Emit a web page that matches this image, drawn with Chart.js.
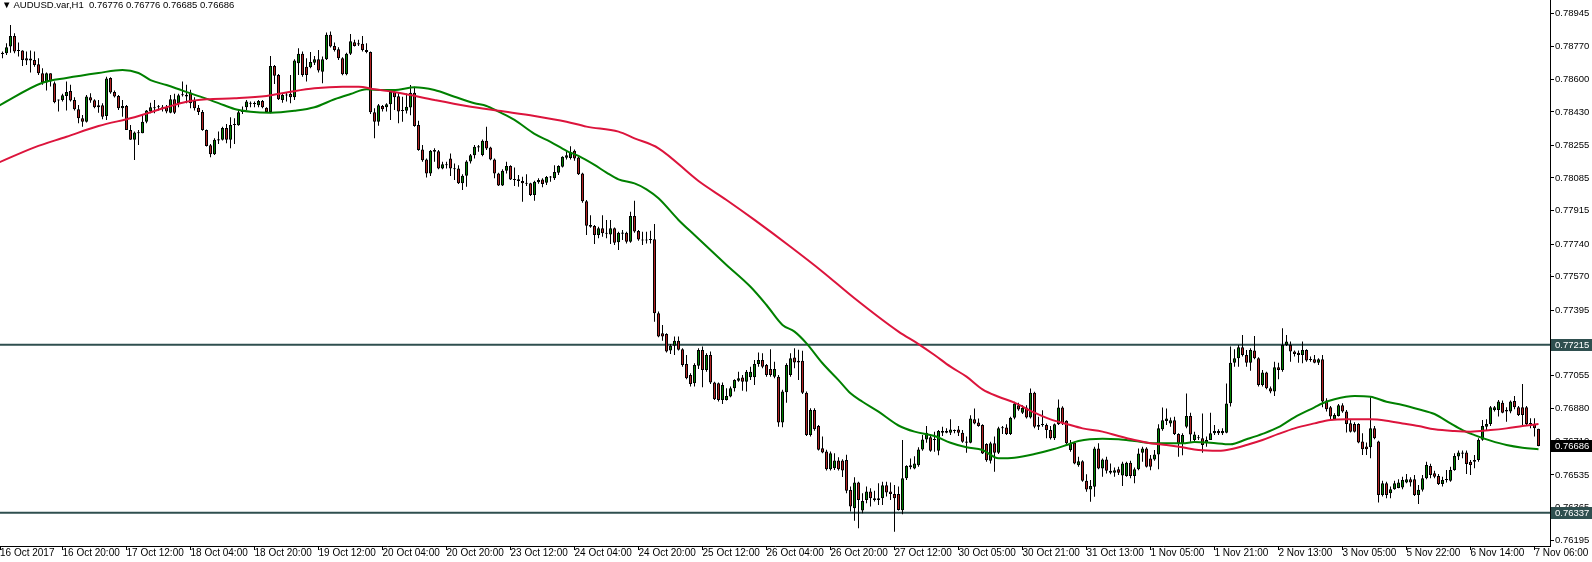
<!DOCTYPE html>
<html lang="en">
<head>
<meta charset="UTF-8">
<title>AUDUSD.var,H1</title>
<script src="https://cdn.jsdelivr.net/npm/chart.js@4.4.1/dist/chart.umd.min.js"></script>
<style>
    html, body { margin: 0; padding: 0; background: #fff; }
    .wrap { position: relative; width: 1592px; height: 562px; }
    .title {
        position: absolute; left: 2px; top: -1px;
        font: 9.5px "Liberation Sans", "DejaVu Sans", sans-serif;
        color: #000; white-space: pre;
    }
</style>
</head>
<body>
<div class="wrap">
    <canvas id="chart" width="1592" height="562"></canvas>
    <div class="title">▼ AUDUSD.var,H1  0.76776 0.76776 0.76685 0.76686</div>
</div>
<script>
// H1 candles, one entry per bar, oldest first (bar 0 = 16 Oct 04:00)
const opens = [
    0.78760, 0.78739, 0.78736, 0.78771, 0.78826, 0.78752, 0.78750, 0.78710, 0.78708, 0.78701,
    0.78679, 0.78632, 0.78583, 0.78632, 0.78579, 0.78494, 0.78492, 0.78513, 0.78539, 0.78492,
    0.78444, 0.78397, 0.78379, 0.78506, 0.78491, 0.78465, 0.78465, 0.78409, 0.78607, 0.78534,
    0.78513, 0.78449, 0.78461, 0.78336, 0.78284, 0.78320, 0.78318, 0.78378, 0.78432, 0.78449,
    0.78454, 0.78456, 0.78454, 0.78426, 0.78496, 0.78475, 0.78517, 0.78520, 0.78531, 0.78487,
    0.78451, 0.78430, 0.78336, 0.78256, 0.78209, 0.78280, 0.78284, 0.78346, 0.78284, 0.78362,
    0.78360, 0.78430, 0.78454, 0.78477, 0.78473, 0.78465, 0.78487, 0.78451, 0.78430, 0.78670,
    0.78623, 0.78492, 0.78518, 0.78524, 0.78506, 0.78684, 0.78733, 0.78666, 0.78663, 0.78687,
    0.78705, 0.78640, 0.78705, 0.78832, 0.78774, 0.78757, 0.78710, 0.78626, 0.78733, 0.78793,
    0.78782, 0.78785, 0.78753, 0.78743, 0.78428, 0.78379, 0.78461, 0.78454, 0.78470, 0.78534,
    0.78512, 0.78439, 0.78436, 0.78453, 0.78530, 0.78361, 0.78234, 0.78182, 0.78109, 0.78222,
    0.78225, 0.78135, 0.78156, 0.78187, 0.78135, 0.78135, 0.78057, 0.78097, 0.78171, 0.78203,
    0.78244, 0.78205, 0.78279, 0.78244, 0.78182, 0.78109, 0.78046, 0.78123, 0.78147, 0.78077,
    0.78079, 0.78069, 0.78057, 0.78057, 0.77996, 0.78063, 0.78077, 0.78060, 0.78088, 0.78083,
    0.78112, 0.78144, 0.78190, 0.78189, 0.78227, 0.78192, 0.78109, 0.77964, 0.77839, 0.77834,
    0.77787, 0.77823, 0.77798, 0.77790, 0.77823, 0.77750, 0.77801, 0.77799, 0.77752, 0.77886,
    0.77808, 0.77761, 0.77759, 0.77761, 0.77765, 0.77379, 0.77274, 0.77271, 0.77184, 0.77209,
    0.77236, 0.77191, 0.77114, 0.77057, 0.77013, 0.77105, 0.77187, 0.77083, 0.77161, 0.77017,
    0.77013, 0.76926, 0.76926, 0.76944, 0.76987, 0.77027, 0.77043, 0.77022, 0.77045, 0.77045,
    0.77114, 0.77135, 0.77109, 0.77088, 0.77048, 0.77048, 0.76808, 0.76966, 0.77057, 0.77148,
    0.77131, 0.77131, 0.76964, 0.76744, 0.76874, 0.76790, 0.76674, 0.76657, 0.76565, 0.76570,
    0.76610, 0.76610, 0.76613, 0.76456, 0.76361, 0.76495, 0.76349, 0.76404, 0.76448, 0.76413,
    0.76404, 0.76413, 0.76481, 0.76448, 0.76435, 0.76435, 0.76351, 0.76517, 0.76575, 0.76569,
    0.76586, 0.76668, 0.76720, 0.76731, 0.76717, 0.76661, 0.76764, 0.76755, 0.76755, 0.76768,
    0.76772, 0.76755, 0.76703, 0.76703, 0.76826, 0.76809, 0.76795, 0.76696, 0.76609, 0.76700,
    0.76651, 0.76778, 0.76782, 0.76748, 0.76833, 0.76899, 0.76860, 0.76887, 0.76835, 0.76964,
    0.76786, 0.76795, 0.76795, 0.76769, 0.76726, 0.76799, 0.76887, 0.76818, 0.76665, 0.76703,
    0.76586, 0.76607, 0.76505, 0.76459, 0.76473, 0.76673, 0.76569, 0.76616, 0.76557, 0.76546,
    0.76564, 0.76532, 0.76529, 0.76599, 0.76529, 0.76564, 0.76651, 0.76673, 0.76621, 0.76616,
    0.76642, 0.76773, 0.76817, 0.76804, 0.76821, 0.76748, 0.76700, 0.76786, 0.76842, 0.76717,
    0.76726, 0.76726, 0.76700, 0.76717, 0.76752, 0.76764, 0.76752, 0.76755, 0.76909, 0.77121,
    0.77144, 0.77201, 0.77161, 0.77121, 0.77184, 0.77144, 0.77005, 0.77069, 0.76987, 0.76970,
    0.77097, 0.77083, 0.77213, 0.77213, 0.77179, 0.77173, 0.77161, 0.77187, 0.77135, 0.77139,
    0.77121, 0.77139, 0.76923, 0.76888, 0.76825, 0.76843, 0.76899, 0.76866, 0.76805, 0.76801,
    0.76801, 0.76709, 0.76683, 0.76679, 0.76778, 0.76709, 0.76430, 0.76491, 0.76439, 0.76460,
    0.76467, 0.76470, 0.76495, 0.76512, 0.76512, 0.76430, 0.76457, 0.76518, 0.76582, 0.76544,
    0.76530, 0.76488, 0.76509, 0.76505, 0.76561, 0.76631, 0.76645, 0.76652, 0.76604, 0.76604,
    0.76613, 0.76718, 0.76787, 0.76801, 0.76874, 0.76874, 0.76912, 0.76874, 0.76866, 0.76921,
    0.76888, 0.76888, 0.76888, 0.76801, 0.76801, 0.76776
];
const highs = [
    0.78775, 0.78745, 0.78788, 0.78884, 0.78840, 0.78792, 0.78752, 0.78745, 0.78750, 0.78745,
    0.78710, 0.78658, 0.78635, 0.78632, 0.78588, 0.78494, 0.78524, 0.78588, 0.78571, 0.78506,
    0.78466, 0.78414, 0.78518, 0.78527, 0.78496, 0.78492, 0.78475, 0.78614, 0.78611, 0.78541,
    0.78518, 0.78492, 0.78466, 0.78362, 0.78327, 0.78336, 0.78419, 0.78440, 0.78478, 0.78492,
    0.78466, 0.78466, 0.78466, 0.78518, 0.78524, 0.78524, 0.78588, 0.78571, 0.78545, 0.78506,
    0.78466, 0.78440, 0.78338, 0.78263, 0.78292, 0.78327, 0.78353, 0.78367, 0.78402, 0.78397,
    0.78440, 0.78458, 0.78492, 0.78484, 0.78484, 0.78492, 0.78492, 0.78454, 0.78722, 0.78675,
    0.78628, 0.78524, 0.78531, 0.78623, 0.78705, 0.78762, 0.78745, 0.78710, 0.78743, 0.78722,
    0.78753, 0.78719, 0.78844, 0.78849, 0.78792, 0.78767, 0.78715, 0.78739, 0.78837, 0.78806,
    0.78806, 0.78826, 0.78788, 0.78745, 0.78449, 0.78471, 0.78466, 0.78475, 0.78545, 0.78545,
    0.78527, 0.78509, 0.78526, 0.78570, 0.78561, 0.78384, 0.78257, 0.78187, 0.78231, 0.78240,
    0.78231, 0.78170, 0.78170, 0.78213, 0.78161, 0.78152, 0.78105, 0.78178, 0.78210, 0.78257,
    0.78257, 0.78286, 0.78352, 0.78248, 0.78187, 0.78112, 0.78130, 0.78170, 0.78152, 0.78140,
    0.78100, 0.78091, 0.78105, 0.78060, 0.78071, 0.78083, 0.78083, 0.78095, 0.78095, 0.78152,
    0.78152, 0.78199, 0.78225, 0.78251, 0.78234, 0.78196, 0.78112, 0.77970, 0.77891, 0.77839,
    0.77830, 0.77891, 0.77865, 0.77865, 0.77827, 0.77804, 0.77813, 0.77804, 0.77909, 0.77966,
    0.77813, 0.77804, 0.77804, 0.77809, 0.77845, 0.77388, 0.77318, 0.77274, 0.77219, 0.77257,
    0.77257, 0.77196, 0.77161, 0.77066, 0.77118, 0.77196, 0.77205, 0.77170, 0.77179, 0.77022,
    0.77017, 0.77017, 0.76987, 0.76996, 0.77034, 0.77074, 0.77057, 0.77083, 0.77100, 0.77135,
    0.77174, 0.77170, 0.77114, 0.77191, 0.77126, 0.77057, 0.76979, 0.77118, 0.77170, 0.77196,
    0.77188, 0.77183, 0.76970, 0.76883, 0.76883, 0.76796, 0.76735, 0.76666, 0.76657, 0.76648,
    0.76627, 0.76617, 0.76640, 0.76474, 0.76523, 0.76500, 0.76439, 0.76474, 0.76465, 0.76453,
    0.76491, 0.76500, 0.76500, 0.76495, 0.76483, 0.76474, 0.76717, 0.76586, 0.76621, 0.76633,
    0.76679, 0.76743, 0.76790, 0.76743, 0.76760, 0.76769, 0.76786, 0.76778, 0.76825, 0.76772,
    0.76790, 0.76769, 0.76735, 0.76847, 0.76882, 0.76830, 0.76799, 0.76700, 0.76708, 0.76735,
    0.76786, 0.76790, 0.76800, 0.76839, 0.76917, 0.76912, 0.76899, 0.76899, 0.76986, 0.76969,
    0.76839, 0.76873, 0.76804, 0.76790, 0.76804, 0.76929, 0.76894, 0.76821, 0.76717, 0.76708,
    0.76630, 0.76612, 0.76539, 0.76508, 0.76682, 0.76700, 0.76621, 0.76630, 0.76595, 0.76574,
    0.76578, 0.76604, 0.76604, 0.76609, 0.76574, 0.76673, 0.76682, 0.76679, 0.76639, 0.76665,
    0.76800, 0.76887, 0.76882, 0.76835, 0.76839, 0.76752, 0.76752, 0.76960, 0.76860, 0.76760,
    0.76743, 0.76856, 0.76735, 0.76860, 0.76795, 0.76773, 0.76778, 0.77012, 0.77205, 0.77191,
    0.77213, 0.77266, 0.77187, 0.77196, 0.77260, 0.77149, 0.77083, 0.77074, 0.76996, 0.77126,
    0.77121, 0.77300, 0.77266, 0.77231, 0.77184, 0.77184, 0.77231, 0.77191, 0.77153, 0.77161,
    0.77144, 0.77161, 0.76935, 0.76895, 0.76857, 0.76905, 0.76909, 0.76874, 0.76822, 0.76810,
    0.76805, 0.76752, 0.76704, 0.76940, 0.76790, 0.76714, 0.76505, 0.76500, 0.76474, 0.76505,
    0.76512, 0.76526, 0.76540, 0.76523, 0.76535, 0.76483, 0.76535, 0.76604, 0.76593, 0.76557,
    0.76540, 0.76526, 0.76561, 0.76578, 0.76648, 0.76662, 0.76662, 0.76662, 0.76613, 0.76639,
    0.76726, 0.76822, 0.76826, 0.76895, 0.76895, 0.76926, 0.76923, 0.76888, 0.76923, 0.76947,
    0.76895, 0.77010, 0.76895, 0.76831, 0.76831, 0.76776
];
const lows = [
    0.78725, 0.78710, 0.78727, 0.78739, 0.78736, 0.78719, 0.78670, 0.78675, 0.78635, 0.78666,
    0.78623, 0.78571, 0.78541, 0.78562, 0.78475, 0.78432, 0.78484, 0.78437, 0.78484, 0.78437,
    0.78371, 0.78353, 0.78374, 0.78478, 0.78449, 0.78426, 0.78391, 0.78388, 0.78524, 0.78505,
    0.78440, 0.78405, 0.78336, 0.78284, 0.78179, 0.78257, 0.78318, 0.78371, 0.78423, 0.78423,
    0.78437, 0.78432, 0.78423, 0.78423, 0.78419, 0.78454, 0.78510, 0.78475, 0.78449, 0.78437,
    0.78414, 0.78332, 0.78249, 0.78193, 0.78205, 0.78263, 0.78280, 0.78266, 0.78240, 0.78263,
    0.78357, 0.78419, 0.78440, 0.78454, 0.78454, 0.78454, 0.78449, 0.78430, 0.78423, 0.78576,
    0.78492, 0.78478, 0.78484, 0.78475, 0.78492, 0.78623, 0.78614, 0.78588, 0.78658, 0.78675,
    0.78635, 0.78579, 0.78701, 0.78766, 0.78745, 0.78701, 0.78621, 0.78621, 0.78727, 0.78771,
    0.78774, 0.78745, 0.78736, 0.78419, 0.78292, 0.78357, 0.78432, 0.78432, 0.78388, 0.78440,
    0.78371, 0.78378, 0.78422, 0.78413, 0.78352, 0.78227, 0.78170, 0.78088, 0.78095, 0.78170,
    0.78130, 0.78130, 0.78135, 0.78095, 0.78074, 0.78053, 0.78022, 0.78039, 0.78161, 0.78187,
    0.78222, 0.78199, 0.78231, 0.78178, 0.78083, 0.78043, 0.78043, 0.78109, 0.78074, 0.78043,
    0.78039, 0.77961, 0.78043, 0.77991, 0.77966, 0.78055, 0.78036, 0.78048, 0.78065, 0.78074,
    0.78100, 0.78140, 0.78182, 0.78182, 0.78175, 0.78100, 0.77956, 0.77787, 0.77825, 0.77740,
    0.77770, 0.77778, 0.77770, 0.77740, 0.77735, 0.77709, 0.77761, 0.77743, 0.77747, 0.77799,
    0.77757, 0.77735, 0.77743, 0.77743, 0.77335, 0.77253, 0.77236, 0.77174, 0.77166, 0.77161,
    0.77184, 0.77100, 0.77035, 0.76996, 0.76996, 0.77088, 0.76993, 0.77074, 0.77010, 0.76926,
    0.76918, 0.76905, 0.76923, 0.76940, 0.76970, 0.77022, 0.76975, 0.76970, 0.77031, 0.77005,
    0.77100, 0.77092, 0.77048, 0.77048, 0.77040, 0.76787, 0.76784, 0.76912, 0.77048, 0.77092,
    0.77031, 0.76957, 0.76738, 0.76735, 0.76766, 0.76662, 0.76648, 0.76558, 0.76558, 0.76561,
    0.76558, 0.76524, 0.76439, 0.76344, 0.76296, 0.76257, 0.76335, 0.76387, 0.76370, 0.76396,
    0.76378, 0.76378, 0.76422, 0.76404, 0.76239, 0.76349, 0.76330, 0.76508, 0.76564, 0.76564,
    0.76578, 0.76661, 0.76703, 0.76656, 0.76656, 0.76638, 0.76738, 0.76752, 0.76743, 0.76752,
    0.76738, 0.76703, 0.76651, 0.76700, 0.76800, 0.76786, 0.76644, 0.76604, 0.76595, 0.76551,
    0.76644, 0.76748, 0.76743, 0.76743, 0.76825, 0.76870, 0.76853, 0.76830, 0.76830, 0.76778,
    0.76769, 0.76786, 0.76726, 0.76720, 0.76717, 0.76795, 0.76795, 0.76696, 0.76656, 0.76591,
    0.76578, 0.76499, 0.76447, 0.76395, 0.76421, 0.76564, 0.76525, 0.76543, 0.76539, 0.76525,
    0.76534, 0.76477, 0.76525, 0.76517, 0.76491, 0.76560, 0.76604, 0.76574, 0.76560, 0.76609,
    0.76564, 0.76766, 0.76795, 0.76786, 0.76743, 0.76630, 0.76638, 0.76778, 0.76708, 0.76708,
    0.76717, 0.76651, 0.76682, 0.76717, 0.76743, 0.76743, 0.76743, 0.76752, 0.76892, 0.77100,
    0.77100, 0.77153, 0.77100, 0.77079, 0.77139, 0.76996, 0.76996, 0.76982, 0.76961, 0.76947,
    0.77034, 0.77074, 0.77208, 0.77126, 0.77153, 0.77121, 0.77118, 0.77126, 0.77126, 0.77118,
    0.77109, 0.76888, 0.76866, 0.76822, 0.76822, 0.76840, 0.76860, 0.76756, 0.76756, 0.76756,
    0.76700, 0.76639, 0.76639, 0.76622, 0.76721, 0.76391, 0.76422, 0.76413, 0.76413, 0.76457,
    0.76465, 0.76460, 0.76491, 0.76474, 0.76425, 0.76383, 0.76448, 0.76512, 0.76518, 0.76518,
    0.76483, 0.76474, 0.76495, 0.76500, 0.76557, 0.76613, 0.76622, 0.76540, 0.76535, 0.76570,
    0.76604, 0.76714, 0.76770, 0.76791, 0.76866, 0.76840, 0.76857, 0.76813, 0.76857, 0.76878,
    0.76843, 0.76791, 0.76796, 0.76778, 0.76735, 0.76685
];
const closes = [
    0.78740, 0.78732, 0.78767, 0.78826, 0.78745, 0.78748, 0.78701, 0.78698, 0.78698, 0.78675,
    0.78632, 0.78583, 0.78632, 0.78588, 0.78480, 0.78490, 0.78517, 0.78534, 0.78489, 0.78444,
    0.78397, 0.78379, 0.78510, 0.78489, 0.78454, 0.78454, 0.78405, 0.78604, 0.78531, 0.78510,
    0.78449, 0.78461, 0.78336, 0.78284, 0.78322, 0.78318, 0.78378, 0.78437, 0.78454, 0.78454,
    0.78456, 0.78452, 0.78432, 0.78496, 0.78426, 0.78517, 0.78520, 0.78510, 0.78475, 0.78449,
    0.78430, 0.78336, 0.78252, 0.78209, 0.78284, 0.78287, 0.78346, 0.78284, 0.78362, 0.78365,
    0.78428, 0.78440, 0.78484, 0.78473, 0.78471, 0.78487, 0.78454, 0.78430, 0.78670, 0.78618,
    0.78496, 0.78518, 0.78515, 0.78506, 0.78698, 0.78733, 0.78623, 0.78623, 0.78691, 0.78705,
    0.78646, 0.78705, 0.78832, 0.78771, 0.78753, 0.78710, 0.78626, 0.78733, 0.78799, 0.78774,
    0.78788, 0.78753, 0.78743, 0.78428, 0.78379, 0.78465, 0.78444, 0.78470, 0.78534, 0.78506,
    0.78432, 0.78434, 0.78457, 0.78530, 0.78356, 0.78231, 0.78178, 0.78109, 0.78227, 0.78231,
    0.78135, 0.78156, 0.78152, 0.78135, 0.78130, 0.78057, 0.78097, 0.78171, 0.78203, 0.78248,
    0.78251, 0.78279, 0.78239, 0.78182, 0.78109, 0.78046, 0.78123, 0.78147, 0.78077, 0.78074,
    0.78069, 0.78057, 0.78055, 0.77996, 0.78065, 0.78074, 0.78053, 0.78090, 0.78092, 0.78116,
    0.78147, 0.78196, 0.78204, 0.78220, 0.78187, 0.78104, 0.77964, 0.77836, 0.77830, 0.77787,
    0.77823, 0.77796, 0.77794, 0.77823, 0.77747, 0.77799, 0.77794, 0.77752, 0.77886, 0.77806,
    0.77764, 0.77759, 0.77761, 0.77764, 0.77379, 0.77257, 0.77257, 0.77179, 0.77209, 0.77236,
    0.77188, 0.77109, 0.77040, 0.77010, 0.77109, 0.77187, 0.77083, 0.77161, 0.77017, 0.76930,
    0.76926, 0.77005, 0.76947, 0.76987, 0.77031, 0.77040, 0.77022, 0.77074, 0.77074, 0.77114,
    0.77135, 0.77100, 0.77057, 0.77057, 0.77088, 0.76808, 0.76970, 0.77109, 0.77144, 0.77122,
    0.77122, 0.76964, 0.76744, 0.76874, 0.76773, 0.76666, 0.76652, 0.76565, 0.76648, 0.76610,
    0.76565, 0.76558, 0.76453, 0.76370, 0.76495, 0.76404, 0.76399, 0.76448, 0.76413, 0.76404,
    0.76413, 0.76481, 0.76443, 0.76435, 0.76413, 0.76352, 0.76517, 0.76581, 0.76586, 0.76595,
    0.76668, 0.76720, 0.76755, 0.76661, 0.76720, 0.76764, 0.76755, 0.76764, 0.76772, 0.76764,
    0.76755, 0.76708, 0.76709, 0.76830, 0.76804, 0.76791, 0.76647, 0.76612, 0.76700, 0.76651,
    0.76778, 0.76782, 0.76748, 0.76833, 0.76908, 0.76877, 0.76886, 0.76835, 0.76964, 0.76786,
    0.76795, 0.76795, 0.76769, 0.76726, 0.76799, 0.76887, 0.76804, 0.76700, 0.76703, 0.76595,
    0.76607, 0.76505, 0.76459, 0.76477, 0.76673, 0.76569, 0.76616, 0.76557, 0.76546, 0.76560,
    0.76546, 0.76595, 0.76599, 0.76529, 0.76564, 0.76647, 0.76673, 0.76578, 0.76578, 0.76642,
    0.76778, 0.76821, 0.76830, 0.76821, 0.76748, 0.76700, 0.76743, 0.76842, 0.76746, 0.76746,
    0.76729, 0.76691, 0.76717, 0.76752, 0.76764, 0.76752, 0.76764, 0.76908, 0.77121, 0.77144,
    0.77201, 0.77161, 0.77121, 0.77187, 0.77144, 0.77005, 0.77069, 0.76987, 0.76970, 0.77097,
    0.77083, 0.77213, 0.77231, 0.77179, 0.77166, 0.77161, 0.77187, 0.77132, 0.77135, 0.77121,
    0.77139, 0.76918, 0.76878, 0.76840, 0.76848, 0.76899, 0.76866, 0.76801, 0.76761, 0.76761,
    0.76704, 0.76669, 0.76669, 0.76778, 0.76726, 0.76430, 0.76491, 0.76430, 0.76460, 0.76491,
    0.76495, 0.76509, 0.76512, 0.76495, 0.76430, 0.76457, 0.76518, 0.76587, 0.76535, 0.76526,
    0.76488, 0.76509, 0.76512, 0.76561, 0.76634, 0.76652, 0.76652, 0.76592, 0.76587, 0.76613,
    0.76718, 0.76791, 0.76801, 0.76888, 0.76888, 0.76918, 0.76860, 0.76866, 0.76918, 0.76888,
    0.76848, 0.76848, 0.76801, 0.76801, 0.76778, 0.76686
];

// moving averages at the listed bars
const maFastBars = [0, 11, 17, 25, 31, 35, 38, 42, 46, 51, 55, 59, 63, 68, 74, 79, 84, 88, 92, 96,
    100, 104, 109, 114, 119, 122, 125, 129, 134, 138, 142, 145, 149, 152, 155, 159, 162, 165, 170, 174,
    182, 188, 192, 196, 199, 202, 206, 210, 213, 216, 220, 225, 229, 234, 238, 242, 246, 250, 254, 259,
    263, 267, 270, 276, 280, 284, 289, 292, 296, 299, 303, 308, 312, 316, 320, 324, 329, 331, 334, 339,
    343, 347, 351, 355, 359, 363, 366, 369, 373, 377, 381, 385];
const maFastVals = [0.78461, 0.78582, 0.78607, 0.78633, 0.78649, 0.78633, 0.78596, 0.78570, 0.78541, 0.78506,
    0.78476, 0.78445, 0.78431, 0.78426, 0.78436, 0.78454, 0.78496, 0.78523, 0.78548, 0.78544,
    0.78546, 0.78558, 0.78544, 0.78509, 0.78475, 0.78461, 0.78431, 0.78388, 0.78315, 0.78274,
    0.78227, 0.78200, 0.78153, 0.78113, 0.78078, 0.78057, 0.78026, 0.77979, 0.77866, 0.77787,
    0.77631, 0.77517, 0.77422, 0.77318, 0.77283, 0.77222, 0.77118, 0.77030, 0.76961, 0.76917,
    0.76865, 0.76793, 0.76761, 0.76738, 0.76703, 0.76679, 0.76665, 0.76622, 0.76625, 0.76644,
    0.76665, 0.76691, 0.76712, 0.76724, 0.76721, 0.76712, 0.76700, 0.76700, 0.76700, 0.76707,
    0.76703, 0.76695, 0.76721, 0.76749, 0.76784, 0.76836, 0.76888, 0.76909, 0.76930, 0.76947,
    0.76943, 0.76917, 0.76900, 0.76878, 0.76853, 0.76804, 0.76769, 0.76743, 0.76714, 0.76691,
    0.76677, 0.76669];
const maSlowBars = [0, 9, 17, 25, 34, 42, 47, 52, 59, 67, 73, 79, 86, 90, 94, 100, 109, 117, 125, 134,
    142, 147, 155, 159, 165, 175, 182, 189, 198, 206, 214, 225, 230, 234, 238, 242, 246, 250, 254, 259,
    263, 267, 271, 276, 280, 284, 288, 292, 296, 300, 305, 308, 312, 316, 320, 324, 329, 333, 337, 343,
    347, 351, 355, 359, 364, 368, 373, 377, 381, 385];
const maSlowVals = [0.78165, 0.78245, 0.78300, 0.78356, 0.78402, 0.78454, 0.78483, 0.78496, 0.78501, 0.78513,
    0.78535, 0.78553, 0.78561, 0.78561, 0.78548, 0.78530, 0.78492, 0.78461, 0.78436, 0.78409,
    0.78379, 0.78353, 0.78327, 0.78292, 0.78240, 0.78069, 0.77970, 0.77866, 0.77726, 0.77596,
    0.77457, 0.77283, 0.77218, 0.77161, 0.77100, 0.77048, 0.76982, 0.76943, 0.76912, 0.76860,
    0.76825, 0.76801, 0.76778, 0.76761, 0.76738, 0.76717, 0.76700, 0.76691, 0.76679, 0.76665,
    0.76661, 0.76669, 0.76691, 0.76717, 0.76749, 0.76778, 0.76804, 0.76822, 0.76825, 0.76825,
    0.76818, 0.76804, 0.76790, 0.76773, 0.76764, 0.76761, 0.76769, 0.76778, 0.76790, 0.76801];

// horizontal levels
const levels = [0.77215, 0.76337];

// axis labels
const tickBars = [0, 16, 32, 48, 64, 80, 96, 112, 128, 144, 160, 176, 192, 208, 224,
    240, 256, 272, 288, 304, 320, 336, 352, 368, 384];
const tickLabels = ['16 Oct 2017', '16 Oct 20:00', '17 Oct 12:00', '18 Oct 04:00', '18 Oct 20:00',
    '19 Oct 12:00', '20 Oct 04:00', '20 Oct 20:00', '23 Oct 12:00', '24 Oct 04:00', '24 Oct 20:00',
    '25 Oct 12:00', '26 Oct 04:00', '26 Oct 20:00', '27 Oct 12:00', '30 Oct 05:00', '30 Oct 21:00',
    '31 Oct 13:00', '1 Nov 05:00', '1 Nov 21:00', '2 Nov 13:00', '3 Nov 05:00', '5 Nov 22:00',
    '6 Nov 14:00', '7 Nov 06:00'];
const priceTicks = [0.78945, 0.78770, 0.78600, 0.78430, 0.78255, 0.78085, 0.77915, 0.77740,
    0.77570, 0.77395, 0.77225, 0.77055, 0.76880, 0.76710, 0.76535, 0.76365, 0.76195];

const X_MIN = 0.375, X_MAX = 387.875;
const Y_MIN = 0.76164, Y_MAX = 0.79014;
const UP = '#008000', DOWN = '#B22222', SLATE = '#2F4F4F';
const FONT_FAMILY = '"Liberation Sans", "DejaVu Sans", sans-serif';
const FONT = { family: FONT_FAMILY, size: 9.5 };
const lastPrice = closes[closes.length - 1];

const wicks = opens.map((o, i) => ({
    x: i,
    y: [Math.min(lows[i], o, closes[i]), Math.max(highs[i], o, closes[i])]
}));
const bodies = opens.map((o, i) => ({ x: i, y: [o, closes[i]] }));
const bodyColors = opens.map((o, i) => closes[i] >= o ? UP : DOWN);

const lineOf = (bars, vals) => bars.map((b, i) => ({ x: b, y: vals[i] }));
const levelLine = v => [{ x: X_MIN, y: v }, { x: X_MAX, y: v }];

// scales keep their exact size, no extra room for edge labels
const fixSize = (w, h) => s => {
    if (w) s.width = w;
    if (h) s.height = h;
    s.paddingLeft = s.paddingRight = s.paddingTop = s.paddingBottom = 0;
};

// price boxes on the right axis
const priceBoxes = {
    id: 'priceBoxes',
    afterDraw(chart) {
        const { ctx, chartArea } = chart;
        const y = chart.scales.y;
        const boxes = levels.map(v => [v, SLATE]).concat([[lastPrice, '#000']]);
        ctx.save();
        ctx.font = '9.5px ' + FONT_FAMILY;
        ctx.textBaseline = 'middle';
        boxes.forEach(([v, bg]) => {
            const py = Math.round(y.getPixelForValue(v));
            ctx.fillStyle = bg;
            ctx.fillRect(chartArea.right + 1, py - 6, chart.width - chartArea.right - 1, 12);
            ctx.fillStyle = '#fff';
            ctx.fillText(v.toFixed(5), chartArea.right + 5, py + 0.5);
        });
        ctx.restore();
    }
};

new Chart(document.getElementById('chart'), {
    type: 'bar',
    data: {
        datasets: [
            {
                type: 'line', data: lineOf(maSlowBars, maSlowVals), borderColor: '#DC143C',
                borderWidth: 2, pointRadius: 0, cubicInterpolationMode: 'monotone'
            },
            {
                type: 'line', data: lineOf(maFastBars, maFastVals), borderColor: '#008000',
                borderWidth: 2, pointRadius: 0, cubicInterpolationMode: 'monotone'
            },
            {
                data: bodies, backgroundColor: bodyColors, borderColor: '#000', borderWidth: 1,
                borderSkipped: false, barThickness: 3, grouped: false, minBarLength: 1, inflateAmount: 0
            },
            {
                data: wicks, backgroundColor: '#000', borderWidth: 0,
                barThickness: 1, grouped: false, inflateAmount: 0
            },
            {
                type: 'line', data: levelLine(levels[0]), borderColor: SLATE,
                borderWidth: 2, pointRadius: 0
            },
            {
                type: 'line', data: levelLine(levels[1]), borderColor: SLATE,
                borderWidth: 2, pointRadius: 0
            }
        ]
    },
    options: {
        responsive: false,
        animation: false,
        devicePixelRatio: 1,
        events: [],
        layout: { padding: 0, autoPadding: false },
        plugins: { legend: { display: false }, tooltip: { enabled: false } },
        scales: {
            x: {
                type: 'linear', position: 'bottom', min: X_MIN, max: X_MAX, offset: false,
                afterBuildTicks: s => { s.ticks = tickBars.map(v => ({ value: Math.max(v, X_MIN) })); },
                afterFit: fixSize(0, 16),
                grid: { offset: false, drawOnChartArea: false, drawTicks: true, tickLength: 4, color: '#000' },
                border: { display: true, color: '#000' },
                ticks: {
                    color: '#000', font: { family: FONT_FAMILY, size: 10 }, align: 'start', padding: -3,
                    maxRotation: 0, autoSkip: false,
                    callback: (v, i) => tickLabels[i]
                }
            },
            y: {
                position: 'right', min: Y_MIN, max: Y_MAX,
                afterBuildTicks: s => { s.ticks = priceTicks.map(v => ({ value: v })); },
                afterFit: fixSize(42, 0),
                grid: { drawOnChartArea: false, drawTicks: true, tickLength: 4, color: '#000' },
                border: { display: true, color: '#000' },
                ticks: { color: '#000', font: FONT, padding: 1, callback: v => v.toFixed(5) }
            }
        }
    },
    plugins: [priceBoxes]
});
</script>
</body>
</html>
